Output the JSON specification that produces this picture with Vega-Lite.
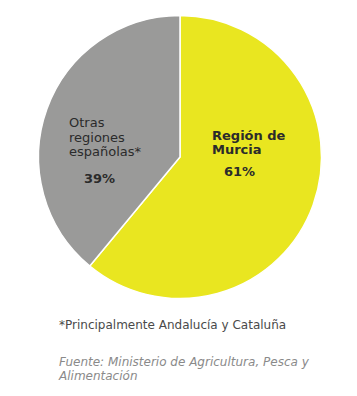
{
  "$schema": "https://vega.github.io/schema/vega-lite/v6.json",
  "width": 354,
  "height": 314,
  "autosize": "none",
  "padding": {"left": 3, "top": 0, "right": 0, "bottom": 82},
  "background": "white",
  "config": {"view": {"stroke": null}},
  "data": {
    "values": [
      {"region": "Región de Murcia", "name": "Región de\nMurcia", "share": 0.61},
      {"region": "Otras regiones españolas*", "name": "Otras\nregiones\nespañolas*", "share": 0.39}
    ]
  },
  "title": {
    "text": "*Principalmente Andalucía y Cataluña",
    "subtitle": ["Fuente: Ministerio de Agricultura, Pesca y", "Alimentación"],
    "orient": "bottom",
    "anchor": "start",
    "frame": "group",
    "offset": 6,
    "dx": 56,
    "font": "DejaVu Sans",
    "fontSize": 12,
    "fontWeight": "normal",
    "color": "#4a4a4a",
    "subtitleFont": "DejaVu Sans",
    "subtitleFontSize": 12,
    "subtitleFontStyle": "italic",
    "subtitleColor": "#8a8a8a",
    "subtitlePadding": 25,
    "subtitleLineHeight": 13.5
  },
  "layer": [
    {
      "mark": {"type": "arc", "outerRadius": 141.5, "stroke": "white", "strokeWidth": 1.5},
      "encoding": {
        "theta": {"field": "share", "type": "quantitative", "stack": true},
        "order": {"field": "share", "sort": "descending"},
        "color": {
          "field": "region",
          "type": "nominal",
          "scale": {"domain": ["Región de Murcia", "Otras regiones españolas*"], "range": ["#E9E620", "#9A9A99"]},
          "legend": null
        }
      }
    },
    {
      "transform": [{"filter": "datum.region === 'Otras regiones españolas*'"}],
      "mark": {"type": "text", "align": "left", "baseline": "alphabetic", "lineBreak": "\n", "lineHeight": 14.7, "dx": -111, "dy": -30, "font": "DejaVu Sans", "fontSize": 13, "color": "#2b2b2b"},
      "encoding": {"text": {"field": "name", "type": "nominal"}}
    },
    {
      "transform": [{"filter": "datum.region === 'Otras regiones españolas*'"}],
      "mark": {"type": "text", "align": "left", "baseline": "alphabetic", "dx": -96, "dy": 26, "font": "DejaVu Sans", "fontSize": 13, "fontWeight": "bold", "color": "#2b2b2b"},
      "encoding": {"text": {"field": "share", "type": "quantitative", "format": ".0%"}}
    },
    {
      "transform": [{"filter": "datum.region === 'Región de Murcia'"}],
      "mark": {"type": "text", "align": "left", "baseline": "alphabetic", "lineBreak": "\n", "lineHeight": 14.3, "dx": 32, "dy": -17, "font": "DejaVu Sans", "fontSize": 13, "fontWeight": "bold", "color": "#2b2b2b"},
      "encoding": {"text": {"field": "name", "type": "nominal"}}
    },
    {
      "transform": [{"filter": "datum.region === 'Región de Murcia'"}],
      "mark": {"type": "text", "align": "left", "baseline": "alphabetic", "dx": 44, "dy": 19, "font": "DejaVu Sans", "fontSize": 13, "fontWeight": "bold", "color": "#2b2b2b"},
      "encoding": {"text": {"field": "share", "type": "quantitative", "format": ".0%"}}
    }
  ]
}
